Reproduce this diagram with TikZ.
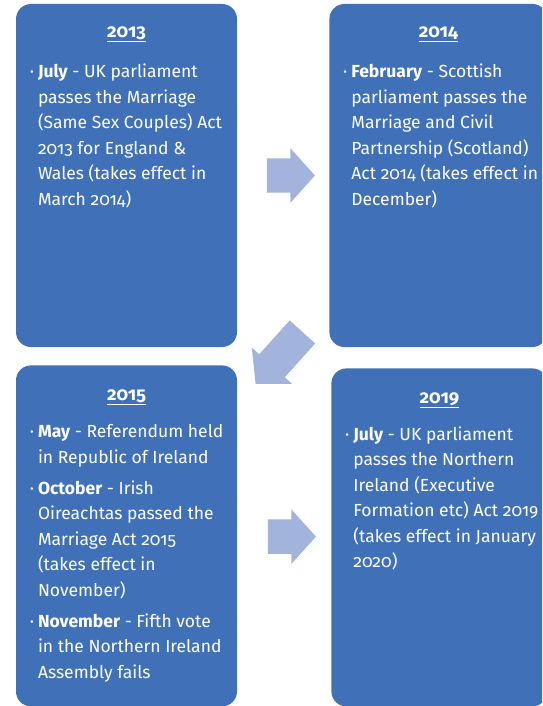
\documentclass[tikz,border=0pt]{standalone}
\usepackage{fontspec}
\setmainfont{Fira Sans}[Numbers=OldStyle]
\usepackage{tikz}
\usetikzlibrary{positioning,shapes.arrows,calc}
\definecolor{boxblue}{RGB}{64,113,184}
\definecolor{arrowblue}{RGB}{162,180,219}
\newcommand{\dotitem}{\llap{\textperiodcentered\hspace{4pt}}}

\begin{document}
\begin{tikzpicture}[x=1pt,y=-1pt]
\tikzstyle{yearbox}=[rectangle, rounded corners=15pt, fill=boxblue, minimum width=221pt, minimum height=343pt, inner sep=0pt]
\tikzstyle{head}=[text=white, font=\bfseries\fontsize{18.5}{20}\selectfont, inner sep=0pt]
\tikzstyle{entry}=[text=white, font=\fontsize{17.5}{25.5}\selectfont, align=left, inner sep=0pt]
\tikzstyle{flow}=[single arrow, fill=arrowblue, inner xsep=0pt, inner ysep=17pt, single arrow head extend=10pt, single arrow tip angle=96, minimum height=48pt]
\clip (0,0) rectangle (542,706);
  % 2013
  \node[yearbox] (b2013) at (126.5,175.5) { };
  % 2014
  \node[yearbox, minimum width=218pt] (b2014) [right=92pt of b2013] { };
  % 2015
  \node[yearbox, minimum height=341pt] (b2015) [below=18pt of b2013] { };
  % 2019
  \node[yearbox, minimum width=216pt, minimum height=338pt] (b2019) [right=94pt of b2015, yshift=-1.5pt] { };
  % headings
  \node[head, below=34pt of b2013.north, anchor=base] (h2013) {\underline{2013}};
  \node[head, below=34pt of b2014.north, anchor=base] (h2014) {\underline{2014}};
  \node[head, below=35pt of b2015.north, anchor=base] (h2015) {\underline{2015}};
  \node[head, below=35pt of b2019.north, anchor=base] (h2019) {\underline{2019}};
  % entries
  \node[entry, below right=60pt and 22pt of b2013.north west] (t2013) {\dotitem\textbf{July} - UK parliament\\
    passes the Marriage\\
    (Same Sex Couples) Act\\
    2013 for England \&\\
    Wales (takes effect in\\
    March 2014)};
  \node[entry, below right=60pt and 22pt of b2014.north west] (t2014) {\dotitem\textbf{February} - Scottish\\
    parliament passes the\\
    Marriage and Civil\\
    Partnership (Scotland)\\
    Act 2014 (takes effect in\\
    December)};
  \node[entry, below right=59pt and 22pt of b2015.north west] (t2015) {\dotitem\textbf{May} - Referendum held\\
    in Republic of Ireland\\[5.5pt]
    \dotitem\textbf{October} - Irish\\
    Oireachtas passed the\\
    Marriage Act 2015\\
    (takes effect in\\
    November)\\[5.5pt]
    \dotitem\textbf{November} - Fifth vote\\
    in the Northern Ireland\\
    Assembly fails};
  \node[entry, below right=58pt and 22pt of b2019.north west] (t2019) {\dotitem\textbf{July} - UK parliament\\
    passes the Northern\\
    Ireland (Executive\\
    Formation etc) Act 2019\\
    (takes effect in January\\
    2020)};
  % arrows
  \node[flow] (a1) at ($(b2013.east)!0.5!(b2014.west)$) { };
  \node[flow, minimum height=70pt, xshift=1pt, yshift=4pt, rotate=228] (a2) at ($(b2014.south west)!0.5!(b2015.north east)$) { };
  \node[flow] (a3) at ($(b2015.east)!0.5!(b2019.west)$) { };
\end{tikzpicture}
\end{document}
